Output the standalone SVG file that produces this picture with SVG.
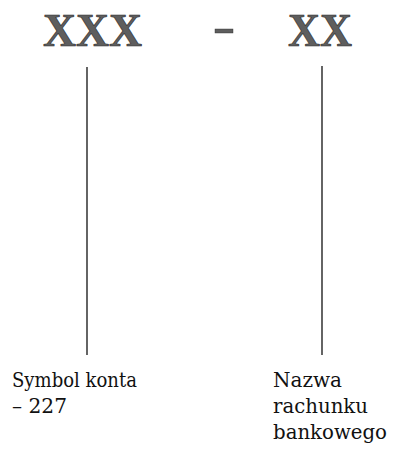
<svg xmlns="http://www.w3.org/2000/svg" width="395" height="454" viewBox="0 0 395 454">
  <style>
    .code { font-family: "Liberation Serif", "Times New Roman", serif; font-weight: bold; font-size: 46px; fill: #5e5e5e; stroke: #2a2a2a; stroke-width: 0.6; }
    .label { font-family: "DejaVu Serif", serif; font-size: 20px; fill: #111; }
    .link { stroke: #111; stroke-width: 1.3; fill: none; }
  </style>
  <rect width="395" height="454" fill="#fff"/>

  <!-- account code pattern -->
  <g id="code-account">
    <text class="code" x="43" y="46" textLength="99" lengthAdjust="spacingAndGlyphs">XXX</text>
  </g>
  <g id="code-separator">
    <rect x="215" y="29" width="18" height="4" fill="#5e5e5e" stroke="#2a2a2a" stroke-width="0.4"/>
  </g>
  <g id="code-bank">
    <text class="code" x="288" y="46" textLength="64" lengthAdjust="spacingAndGlyphs">XX</text>
  </g>

  <!-- leader lines -->
  <g id="connectors">
    <line class="link" x1="87" y1="67" x2="87" y2="355"/>
    <line class="link" x1="322" y1="66" x2="322" y2="355"/>
  </g>

  <!-- descriptions -->
  <g id="label-account">
    <text class="label" x="12" y="387" textLength="125" lengthAdjust="spacingAndGlyphs">Symbol konta</text>
    <text class="label" x="12" y="413" textLength="55" lengthAdjust="spacingAndGlyphs">– 227</text>
  </g>
  <g id="label-bank">
    <text class="label" x="273" y="387" textLength="69" lengthAdjust="spacingAndGlyphs">Nazwa</text>
    <text class="label" x="273" y="413" textLength="95" lengthAdjust="spacingAndGlyphs">rachunku</text>
    <text class="label" x="273" y="439" textLength="114" lengthAdjust="spacingAndGlyphs">bankowego</text>
  </g>
</svg>
